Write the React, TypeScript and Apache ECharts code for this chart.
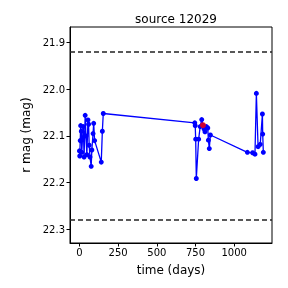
import React, { useEffect, useRef } from "react";
import * as echarts from "echarts";

const days = [
  0, 2, 5, 8, 12, 15, 20, 25, 30, 37, 42, 48, 55, 59, 63, 68, 76, 80, 88, 92, 98, 141, 148, 154,
  745, 748, 751, 755, 770, 780, 790, 798, 805, 811, 820, 829, 833, 839, 846,
  1085, 1119, 1134, 1143, 1154, 1168, 1182, 1184, 1188,
];
const mags = [
  22.132, 22.143, 22.11, 22.078, 22.09, 22.135, 22.105, 22.08, 22.145, 22.056, 22.1, 22.14, 22.066, 22.075,
  22.12, 22.145, 22.165, 22.13, 22.095, 22.073, 22.11, 22.156, 22.09, 22.052,
  22.072, 22.078, 22.107, 22.191, 22.107, 22.08, 22.065, 22.077, 22.085, 22.091, 22.08, 22.083, 22.109, 22.127, 22.098,
  22.135, 22.136, 22.139, 22.009, 22.123, 22.118, 22.053, 22.096, 22.135,
];
const flaggedDays = [798];
const flaggedMags = [22.077];
const thresholds = [21.918, 22.28];
const xTicks = [0, 250, 500, 750, 1000];
const yTicks = [21.9, 22.0, 22.1, 22.2, 22.3];

export default function App() {
  const ref = useRef<HTMLDivElement>(null);
  useEffect(() => {
    if (!ref.current) return;
    const chart = echarts.init(ref.current, null, { renderer: "svg" });
    const font = "DejaVu Sans";
    chart.setOption({
      animation: false,
      title: {
        text: "source 12029",
        left: 171,
        top: 8,
        textAlign: "center",
        textStyle: { fontFamily: font, fontSize: 12, fontWeight: "normal", color: "#000" },
      },
      grid: { left: 70, right: 16, top: 27, bottom: 45, show: true, borderColor: "#000", borderWidth: 1 },
      xAxis: {
        type: "value",
        min: -61,
        max: 1244,
        name: "time (days)",
        nameLocation: "middle",
        nameGap: 21,
        nameTextStyle: { fontFamily: font, fontSize: 12, color: "#000" },
        axisLine: { show: true, onZero: false, lineStyle: { color: "#000" } },
        axisTick: { show: true, length: 3.5, customValues: xTicks, lineStyle: { color: "#000" } },
        axisLabel: {
          customValues: xTicks,
          fontFamily: font,
          fontSize: 10,
          color: "#000",
          margin: 4,
          formatter: (v: number) => String(v),
        },
        splitLine: { show: false },
      },
      yAxis: {
        type: "value",
        inverse: true,
        min: 21.867,
        max: 22.329,
        name: "r mag (mag)",
        nameLocation: "middle",
        nameGap: 35,
        nameTextStyle: { fontFamily: font, fontSize: 12, color: "#000" },
        axisLine: { show: true, onZero: false, lineStyle: { color: "#000" } },
        axisTick: { show: true, length: 3.5, customValues: yTicks, lineStyle: { color: "#000" } },
        axisLabel: {
          customValues: yTicks,
          fontFamily: font,
          fontSize: 10,
          color: "#000",
          margin: 5,
          formatter: (v: number) => v.toFixed(1),
        },
        splitLine: { show: false },
      },
      series: [
        {
          type: "line",
          data: days.map((d, i) => [d, mags[i]]),
          symbol: "circle",
          symbolSize: 5,
          itemStyle: { color: "#0000ff" },
          lineStyle: { color: "#0000ff", width: 1.3 },
          markLine: {
            silent: true,
            symbol: "none",
            label: { show: false },
            lineStyle: { color: "#222", type: [5, 3], width: 1.5 },
            data: thresholds.map((t) => ({ yAxis: t })),
          },
          z: 2,
        },
        {
          type: "scatter",
          data: flaggedDays.map((d, i) => [d, flaggedMags[i]]),
          symbol: "circle",
          symbolSize: 6,
          itemStyle: { color: "#ff0000" },
          z: 3,
        },
      ],
    });
    return () => chart.dispose();
  }, []);
  return <div ref={ref} style={{ position: "fixed", left: 0, top: 0, width: 288, height: 288 }} />;
}
